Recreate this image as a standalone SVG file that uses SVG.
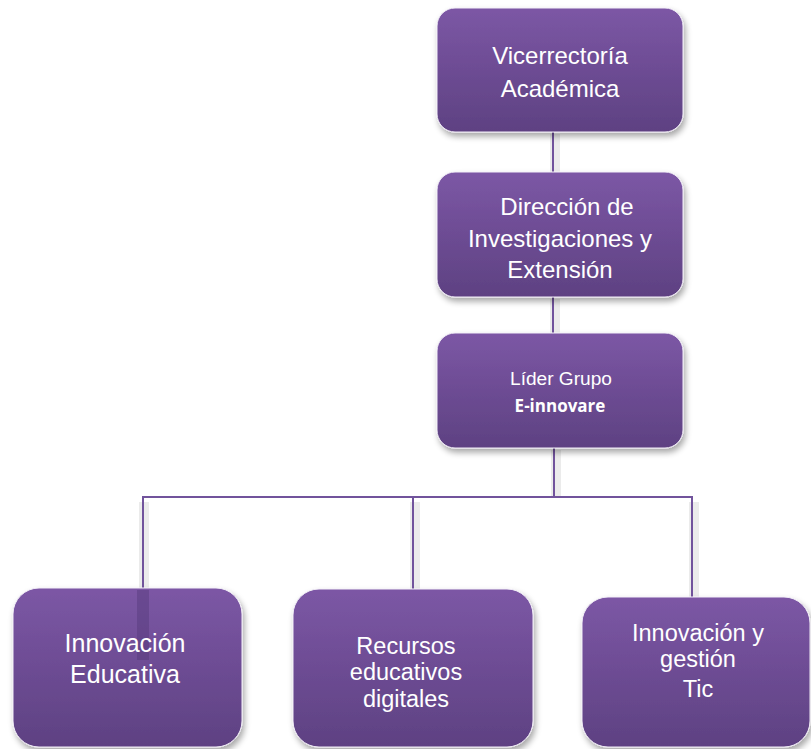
<svg xmlns="http://www.w3.org/2000/svg" width="811" height="749" viewBox="0 0 811 749">
<defs>
<linearGradient id="g" x1="0" y1="0" x2="0" y2="1">
<stop offset="0" stop-color="#7c57a5"/>
<stop offset="1" stop-color="#5e4182"/>
</linearGradient>
<filter id="sh" x="-10%" y="-10%" width="125%" height="130%">
<feGaussianBlur in="SourceAlpha" stdDeviation="3"/>
<feOffset dx="2" dy="4" result="b"/>
<feComponentTransfer><feFuncA type="linear" slope="0.35"/></feComponentTransfer>
<feMerge><feMergeNode/><feMergeNode in="SourceGraphic"/></feMerge>
</filter>
</defs>
<style>
.box{fill:url(#g);stroke:#f2eef7;stroke-width:1;filter:url(#sh)}
.t{font-family:"Liberation Sans",Arial,sans-serif;fill:#ffffff;text-anchor:middle}
.c{stroke:#71539c;stroke-width:2;fill:none}
.s{stroke:#000000;stroke-opacity:0.08;stroke-width:10;fill:none}
</style>
<rect width="811" height="749" fill="#ffffff"/>
<g id="connectors">
<line class="s" x1="555" y1="134" x2="555" y2="172"/>
<line class="s" x1="555" y1="299" x2="555" y2="333"/>
<line class="s" x1="556" y1="450" x2="556" y2="497"/>
<line class="s" x1="144" y1="502" x2="144" y2="590"/>
<line class="s" x1="415" y1="502" x2="415" y2="589"/>
<line class="s" x1="694" y1="502" x2="694" y2="597"/>
<line class="c" x1="553" y1="132" x2="553" y2="172"/>
<line class="c" x1="553" y1="297" x2="553" y2="333"/>
<line class="c" x1="554" y1="448" x2="554" y2="497"/>
<polyline class="c" points="143,590 143,497 692,497 692,597"/>
<line class="c" x1="413" y1="497" x2="413" y2="589"/>
</g>
<g id="n1">
<rect class="box" x="437" y="8" width="246" height="124" rx="18"/>
<text class="t" font-size="24" x="560" y="64">Vicerrectoría</text>
<text class="t" font-size="24" x="560" y="97">Académica</text>
</g>
<g id="n2">
<rect class="box" x="437" y="172" width="246" height="125" rx="18"/>
<text class="t" font-size="24" x="567" y="215">Dirección de</text>
<text class="t" font-size="24" x="560" y="247">Investigaciones y</text>
<text class="t" font-size="24" x="560" y="278">Extensión</text>
</g>
<g id="n3">
<rect class="box" x="437" y="333" width="246" height="115" rx="18"/>
<text class="t" font-size="18" x="561" y="385" textLength="102" lengthAdjust="spacingAndGlyphs">Líder Grupo</text>
<text class="t" font-size="17" font-weight="bold" x="560" y="412" style="font-family:'Open Sans','Liberation Sans',sans-serif">E-innovare</text>
</g>
<g id="n4">
<rect class="box" x="13" y="588" width="229" height="159" rx="26"/>
<rect x="137" y="590" width="12" height="70" fill="#4a3270" opacity="0.35"/>
<text class="t" font-size="25" x="125" y="652">Innovación</text>
<text class="t" font-size="25" x="125" y="683">Educativa</text>
</g>
<g id="n5">
<rect class="box" x="293" y="589" width="240" height="158" rx="26"/>
<text class="t" font-size="23.5" x="406" y="654">Recursos</text>
<text class="t" font-size="23.5" x="406" y="680">educativos</text>
<text class="t" font-size="23.5" x="406" y="707">digitales</text>
</g>
<g id="n6">
<rect class="box" x="582" y="597" width="228" height="150" rx="26"/>
<text class="t" font-size="23.5" x="698" y="641">Innovación y</text>
<text class="t" font-size="23.5" x="698" y="667">gestión</text>
<text class="t" font-size="23.5" x="698" y="697">Tic</text>
</g>
</svg>
